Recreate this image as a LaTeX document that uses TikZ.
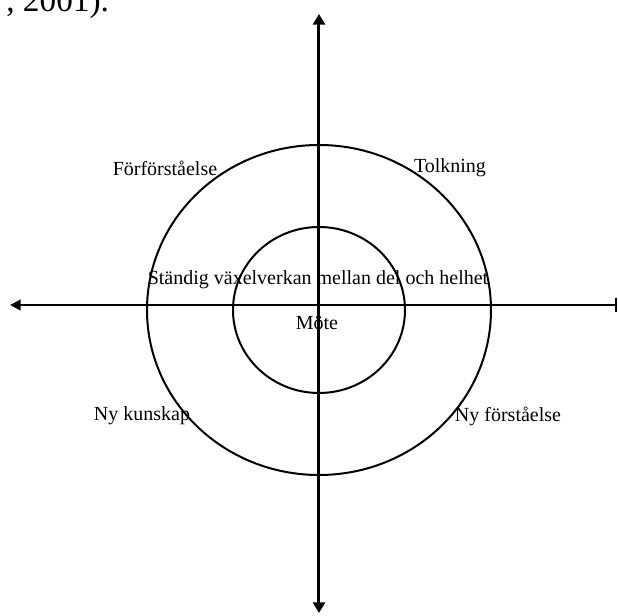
\documentclass[tikz,border=0pt]{standalone}
\usepackage{fontspec}
\setmainfont{Liberation Serif}
\usetikzlibrary{arrows.meta}
\tikzset{
  axis/.style={line width=2.25pt},
  ring/.style={line width=1.5pt},
  lbl/.style={font=\fontsize{15}{17}\selectfont,inner sep=1pt}
}

\begin{document}
\begin{tikzpicture}[x=.75pt,y=.75pt]
    \useasboundingbox (-319,-311) rectangle (299,305);
    % axes
    \coordinate (top) at (0,291); \coordinate (bot) at (0,-308);
    \coordinate (lft) at (-309,0); \coordinate (rgt) at (298,0);
    \draw[axis,{Triangle[width=9pt,length=8pt]}-{Triangle[width=9pt,length=8pt]}] (bot)--(top);
    \draw[line width=1.5pt,{Triangle[width=8pt,length=8pt]}-{Bar[width=11pt]}] (lft)--(rgt);
    % circles
    \coordinate (c) at (0,-5);
    \draw[ring] (c) ellipse [x radius=129pt,y radius=123.75pt];
    \draw[ring] (c) ellipse [x radius=64.5pt,y radius=62.25pt];
    % labels
    \node[lbl] (forf) at (-154,137) {Förförståelse};
    \node[lbl] (tolk) at (131,137) {Tolkning};
    \node[lbl] (vaxl) at (-1,25) {Ständig växelverkan mellan del och helhet};
    \node[lbl] (mote) at (-2,-18) {Möte};
    \node[lbl] (nyk) at (-177,-111) {Ny kunskap};
    \node[lbl] (nyf) at (189,-111) {Ny förståelse};
    \node[anchor=base west,inner sep=0pt,font=\fontsize{25}{28}\selectfont] (kalla) at (-313,293) {, 2001).};
\end{tikzpicture}
\end{document}
